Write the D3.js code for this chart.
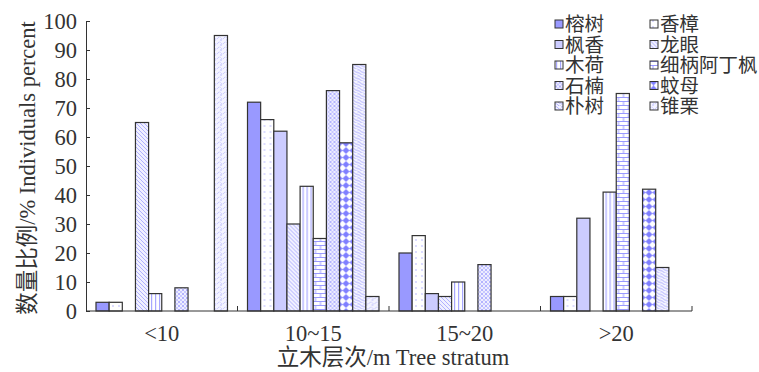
<!DOCTYPE html>
<html>
<head>
<meta charset="utf-8">
<script src="https://cdn.jsdelivr.net/npm/d3@7"></script>
<style>
  body { margin: 0; background: #fff; }
  text { font-family: "Liberation Serif", "Noto Sans CJK SC", serif; fill: #333; }
</style>
</head>
<body>
<svg id="chart" width="759" height="372"></svg>
<script>
// tree strata (x groups) and species (series)
var strata = ["<10", "10~15", "15~20", ">20"];
var species = ["榕树", "香樟", "枫香", "龙眼", "木荷", "细柄阿丁枫", "石楠", "蚊母", "朴树", "锥栗"];
var yTicks = [0, 10, 20, 30, 40, 50, 60, 70, 80, 90, 100];

// percent per stratum, in species order
var lt10   = [3, 3, 0, 65, 6, 0, 8, 0, 0, 95];
var s10_15 = [72, 66, 62, 30, 43, 25, 76, 58, 85, 5];
var s15_20 = [20, 26, 6, 5, 10, 0, 16, 0, 0, 0];
var gt20   = [5, 5, 32, 0, 41, 75, 0, 42, 15, 0];
var values = [lt10, s10_15, s15_20, gt20];

var svg = d3.select("#chart");
var margin = {left: 86, right: 67, top: 21, bottom: 61},
    width = 759 - margin.left - margin.right,
    height = 372 - margin.top - margin.bottom;

var defs = svg.append("defs");
var blue = "#9999ff", light = "#ccccff";

function pat(id, w, h, bg) {
    var p = defs.append("pattern").attr("id", id).attr("patternUnits", "userSpaceOnUse")
        .attr("width", w).attr("height", h);
    p.append("rect").attr("width", w).attr("height", h).attr("fill", bg);
    return p;
}
// 香樟: sparse dots
pat("p1", 6, 6, "#fff").append("circle").attr("cx", 3).attr("cy", 3).attr("r", 0.9).attr("fill", "#ccccff");
// 龙眼: diagonal hatch
pat("p3", 4, 4, "#f0f0ff").append("path").attr("d", "M0,0L4,4M-1,3L1,5M3,-1L5,1").attr("stroke", "#aaaaff").attr("stroke-width", 0.9);
// 木荷: vertical lines
pat("p4", 4, 4, "#fff").append("rect").attr("x", 1).attr("width", 1.2).attr("height", 4).attr("fill", "#a8a8ff");
// 细柄阿丁枫: brick
pat("p5", 10, 8, "#fff").append("path").attr("d", "M0,0.5H10M0,4.5H10M3,0V4.5M8,4.5V8").attr("stroke", blue).attr("stroke-width", 1).attr("fill", "none");
// 石楠: dotted lattice
var p6 = pat("p6", 4, 4, "#eeeeff");
p6.append("rect").attr("width", 2).attr("height", 2).attr("fill", "#b4b4ff");
p6.append("rect").attr("x", 2).attr("y", 2).attr("width", 2).attr("height", 2).attr("fill", "#c8c8ff");
// 蚊母: diamonds
pat("p7", 7, 7, "#fff").append("path").attr("d", "M3.5,0L7,3.5L3.5,7L0,3.5Z").attr("fill", "#7f7fff");
// 朴树: diagonal wave
pat("p8", 6, 6, "#f4f4ff").append("path").attr("d", "M0,1Q1.5,0 3,2T6,3M0,4Q1.5,3 3,5T6,6").attr("stroke", "#b0b0ff").attr("fill", "none");
// 锥栗: wavy dots
var p9 = pat("p9", 6, 5, "#f4f4ff");
p9.append("path").attr("d", "M0,2Q1.5,0 3,2T6,2").attr("stroke", "#b8b8ff").attr("fill", "none").attr("stroke-dasharray", "1,1");
p9.append("circle").attr("cx", 3).attr("cy", 4).attr("r", 0.8).attr("fill", "#b8b8ff");

var fills = [blue, "url(#p1)", light, "url(#p3)", "url(#p4)", "url(#p5)", "url(#p6)", "url(#p7)", "url(#p8)", "url(#p9)"];

var x0 = d3.scaleBand().domain(strata).range([0, width]);
var x1 = d3.scaleBand().domain(species).range([10, x0.bandwidth() - 10]);
var y = d3.scaleLinear().domain([0, 100]).range([height, 0]);

var g = svg.append("g").attr("transform", "translate(" + margin.left + "," + margin.top + ")");

var groups = g.selectAll(".grp")
    .data(strata)
    .enter().append("g")
    .attr("class", "grp")
    .attr("transform", function (d) { return "translate(" + x0(d) + ",0)"; });

groups.selectAll("rect")
    .data(function (d, i) {
        return species.map(function (s, j) { return {s: s, v: values[i][j], j: j}; })
            .filter(function (e) { return e.v > 0; });
    })
    .enter().append("rect")
    .attr("x", function (d) { return x1(d.s); })
    .attr("y", function (d) { return y(d.v); })
    .attr("width", x1.bandwidth())
    .attr("height", function (d) { return height - y(d.v); })
    .attr("fill", function (d) { return fills[d.j]; })
    .attr("stroke", "#333")
    .attr("stroke-width", 1.2);

// y axis, ticks pointing inward
var ya = g.append("g")
    .call(d3.axisLeft(y).tickValues(yTicks).tickSize(-4).tickPadding(9));
ya.selectAll("text").attr("font-size", "22.5px").attr("font-family", "Liberation Serif");
ya.selectAll("line, path").attr("stroke", "#333");

// x axis with boundary ticks
var xa = g.append("g").attr("transform", "translate(0," + height + ")");
xa.append("path").attr("d", "M0,0H" + width).attr("stroke", "#333");
xa.selectAll("line")
    .data(strata.slice(1).concat(["end"]))
    .enter().append("line")
    .attr("x1", function (d) { return d === "end" ? width : x0(d); })
    .attr("x2", function (d) { return d === "end" ? width : x0(d); })
    .attr("y1", 0).attr("y2", -5)
    .attr("stroke", "#333");
xa.selectAll("text")
    .data(strata)
    .enter().append("text")
    .attr("x", function (d) { return x0(d) + x0.bandwidth() / 2; })
    .attr("y", 30)
    .attr("text-anchor", "middle")
    .attr("font-size", "22.5px")
    .text(function (d) { return d; });

svg.append("text")
    .attr("x", 393)
    .attr("y", 365)
    .attr("text-anchor", "middle")
    .attr("font-size", "22.5px")
    .text("立木层次/m Tree stratum");

svg.append("text")
    .attr("transform", "translate(35,168) rotate(-90)")
    .attr("text-anchor", "middle")
    .attr("font-size", "22.5px")
    .text("数量比例/% Individuals percent");

// legend: two columns
var leg = svg.append("g");
var items = leg.selectAll("g")
    .data(species)
    .enter().append("g")
    .attr("transform", function (d, i) {
        return "translate(" + (i % 2 === 0 ? 555 : 650) + "," + (24 + Math.floor(i / 2) * 20.5) + ")";
    });
items.append("rect")
    .attr("x", 0).attr("y", -4)
    .attr("width", 8).attr("height", 8)
    .attr("fill", function (d, i) { return fills[i]; })
    .attr("stroke", "#333");
items.append("text")
    .attr("x", 10)
    .attr("y", 7)
    .attr("font-size", "19.5px")
    .attr("font-family", "Noto Sans CJK SC")
    .text(function (d) { return d; });
</script>
</body>
</html>
